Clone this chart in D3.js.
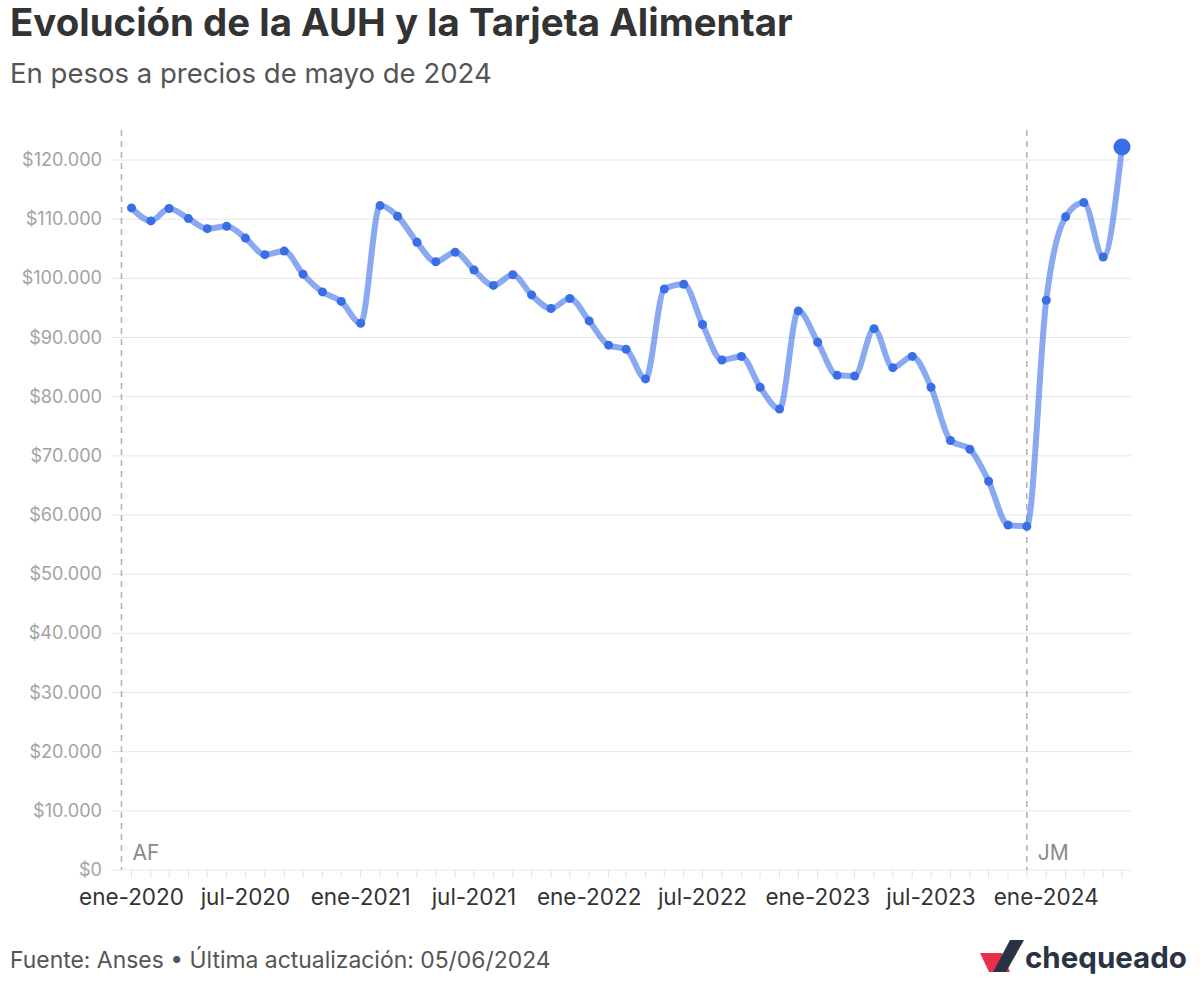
<!DOCTYPE html>
<html>
<head>
<meta charset="utf-8">
<script src="https://cdn.jsdelivr.net/npm/d3@7"></script>
<style>
  html, body { margin: 0; padding: 0; background: #fff; }
  svg { display: block; font-family: Inter, Roboto, "Noto Sans", sans-serif; }
</style>
</head>
<body>
<svg id="chart" width="1200" height="987"></svg>
<script>
// ---- Data ----
const months = [
  "2020-01","2020-02","2020-03","2020-04","2020-05","2020-06","2020-07","2020-08","2020-09","2020-10","2020-11","2020-12",
  "2021-01","2021-02","2021-03","2021-04","2021-05","2021-06","2021-07","2021-08","2021-09","2021-10","2021-11","2021-12",
  "2022-01","2022-02","2022-03","2022-04","2022-05","2022-06","2022-07","2022-08","2022-09","2022-10","2022-11","2022-12",
  "2023-01","2023-02","2023-03","2023-04","2023-05","2023-06","2023-07","2023-08","2023-09","2023-10","2023-11","2023-12",
  "2024-01","2024-02","2024-03","2024-04","2024-05"
];
const values = [
  111900,109700,111800,110100,108400,108800,106800,104000,104600,100700,97700,96100,
  92400,112300,110500,106100,102800,104400,101400,98800,100600,97200,94900,96600,
  92800,88700,88000,83000,98200,99000,92200,86200,86800,81600,77900,94500,
  89200,83600,83500,91500,84900,86800,81600,72600,71100,65700,58300,58100,
  96300,110400,112800,103600,122200
];
const yTicks = [0,10000,20000,30000,40000,50000,60000,70000,80000,90000,100000,110000,120000];
const xLabelMonths = ["2020-01","2020-07","2021-01","2021-07","2022-01","2022-07","2023-01","2023-07","2024-01"];
const monthNames = ["ene","feb","mar","abr","may","jun","jul","ago","sep","oct","nov","dic"];
const events = [
  { label: "AF", date: "2019-12-16" },
  { label: "JM", date: "2023-12-01" }
];
const title = "Evolución de la AUH y la Tarjeta Alimentar";
const subtitle = "En pesos a precios de mayo de 2024";
const footer = "Fuente: Anses • Última actualización: 05/06/2024";

// ---- Setup ----
const parse = d3.utcParse("%Y-%m");
const parseDay = d3.utcParse("%Y-%m-%d");
const data = months.map((m, i) => ({ date: parse(m), value: values[i] }));

const svg = d3.select("#chart");
const plotTop = 160, plotBottom = 870;

const x = d3.scaleUtc()
  .domain([data[0].date, data[data.length - 1].date])
  .range([131.5, 1122]);
const y = d3.scaleLinear().domain([0, 120000]).range([plotBottom, plotTop]);

const locale = d3.formatLocale({ decimal: ",", thousands: ".", grouping: [3], currency: ["$", ""] });
const fmt = locale.format("$,.0f");

// helper: font size that makes a sample string a given width
function fitSize(sample, weight, targetWidth) {
  const t = svg.append("text").attr("font-size", 20).attr("font-weight", weight).text(sample);
  const w = t.node().getComputedTextLength();
  t.remove();
  return 20 * targetWidth / w;
}

// Title / subtitle
svg.append("text").attr("x", 10).attr("y", 36)
  .attr("font-size", fitSize(title, 700, 783)).attr("font-weight", 700).attr("fill", "#333")
  .text(title);
svg.append("text").attr("x", 10).attr("y", 83)
  .attr("font-size", fitSize(subtitle, 400, 482)).attr("fill", "#555")
  .text(subtitle);

// Gridlines + y labels
const ySize = fitSize("$120.000", 400, 80);
const gy = svg.append("g");
gy.selectAll("line").data(yTicks).join("line")
  .attr("x1", 111).attr("x2", 1131)
  .attr("y1", d => y(d)).attr("y2", d => y(d))
  .attr("stroke", "#e6e6e6").attr("stroke-width", 1);
gy.selectAll("text").data(yTicks).join("text")
  .attr("x", 102).attr("y", d => y(d) + 6)
  .attr("text-anchor", "end").attr("font-size", ySize).attr("fill", "#a3a3a3")
  .text(d => fmt(d));

// x ticks (monthly)
const tickDates = d3.utcMonth.range(data[0].date, d3.utcMonth.offset(data[data.length - 1].date, 1));
svg.append("g").selectAll("line").data(tickDates).join("line")
  .attr("x1", d => x(d)).attr("x2", d => x(d))
  .attr("y1", plotBottom).attr("y2", plotBottom + 8)
  .attr("stroke", "#e3e3e3").attr("stroke-width", 1);

// x labels
const xSize = fitSize("ene-2020", 400, 105);
svg.append("g").selectAll("text").data(xLabelMonths.map(parse)).join("text")
  .attr("x", d => x(d)).attr("y", 905)
  .attr("text-anchor", "middle").attr("font-size", xSize).attr("fill", "#333")
  .text(d => monthNames[d.getUTCMonth()] + "-" + d.getUTCFullYear());

// Event lines
const evSize = fitSize("JM", 400, 31);
const ev = svg.append("g").selectAll("g").data(events).join("g");
ev.append("line")
  .attr("x1", d => x(parseDay(d.date))).attr("x2", d => x(parseDay(d.date)))
  .attr("y1", 130).attr("y2", plotBottom)
  .attr("stroke", "#b0b0b0").attr("stroke-width", 1.5).attr("stroke-dasharray", "6,5");
ev.append("text")
  .attr("x", d => x(parseDay(d.date)) + 11).attr("y", 860)
  .attr("font-size", evSize).attr("fill", "#8a8a8a")
  .text(d => d.label);

// Line
const line = d3.line().x(d => x(d.date)).y(d => y(d.value)).curve(d3.curveMonotoneX);
svg.append("path").datum(data)
  .attr("d", line).attr("fill", "none")
  .attr("stroke", "#3b6fe6").attr("stroke-opacity", 0.6)
  .attr("stroke-width", 6).attr("stroke-linejoin", "round").attr("stroke-linecap", "round");

// Dots
svg.append("g").selectAll("circle").data(data).join("circle")
  .attr("cx", d => x(d.date)).attr("cy", d => y(d.value))
  .attr("r", (d, i) => i === data.length - 1 ? 8.5 : 4.5)
  .attr("fill", "#3a6ee6");

// Footer
svg.append("text").attr("x", 10).attr("y", 968)
  .attr("font-size", fitSize(footer, 400, 541)).attr("fill", "#555")
  .text(footer);

// Logo
const logo = svg.append("g").attr("transform", "translate(980,940)");
logo.append("path").attr("d", "M0,13 L22,13 L30,32 L9,32 Z").attr("fill", "#e8304a");
logo.append("path").attr("d", "M13,32 L30,0 L44,0 L26,32 Z").attr("fill", "#2a3344");
logo.append("text").attr("x", 45).attr("y", 28)
  .attr("font-size", fitSize("chequeado", 700, 162)).attr("font-weight", 700).attr("fill", "#2a3344")
  .text("chequeado");
</script>
</body>
</html>
